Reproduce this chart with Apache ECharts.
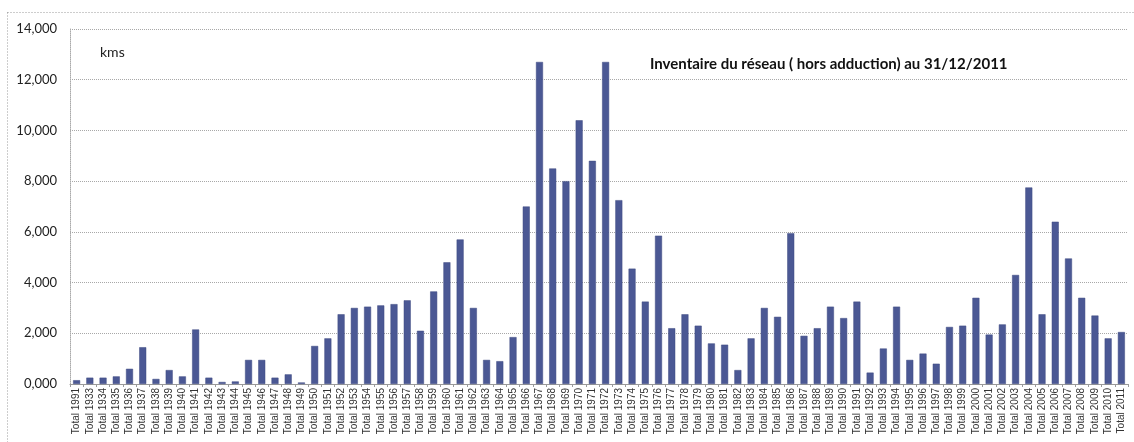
<!DOCTYPE html>
<html>
<head>
<meta charset="utf-8">
<script src="https://cdn.jsdelivr.net/npm/echarts@6/dist/echarts.min.js"></script>
<style>
html,body{margin:0;padding:0;background:#fff;}
#chart{width:1134px;height:442px;}
</style>
</head>
<body>
<div id="chart"></div>
<script>
const categories = ["Total 1991","Total 1933","Total 1934","Total 1935","Total 1936","Total 1937","Total 1938","Total 1939","Total 1940","Total 1941",
"Total 1942","Total 1943","Total 1944","Total 1945","Total 1946","Total 1947","Total 1948","Total 1949","Total 1950","Total 1951",
"Total 1952","Total 1953","Total 1954","Total 1955","Total 1956","Total 1957","Total 1958","Total 1959","Total 1960","Total 1961",
"Total 1962","Total 1963","Total 1964","Total 1965","Total 1966","Total 1967","Total 1968","Total 1969","Total 1970","Total 1971",
"Total 1972","Total 1973","Total 1974","Total 1975","Total 1976","Total 1977","Total 1978","Total 1979","Total 1980","Total 1981",
"Total 1982","Total 1983","Total 1984","Total 1985","Total 1986","Total 1987","Total 1988","Total 1989","Total 1990","Total 1991",
"Total 1992","Total 1993","Total 1994","Total 1995","Total 1996","Total 1997","Total 1998","Total 1999","Total 2000","Total 2001",
"Total 2002","Total 2003","Total 2004","Total 2005","Total 2006","Total 2007","Total 2008","Total 2009","Total 2010","Total 2011"];

const kms = [150,250,250,300,600,1450,200,550,300,2150,
250,80,100,950,950,250,380,60,1500,1800,
2750,3000,3050,3100,3150,3300,2100,3650,4800,5700,
3000,950,900,1850,7000,12700,8500,8000,10400,8800,
12700,7250,4550,3250,5850,2200,2750,2300,1600,1550,
550,1800,3000,2650,5950,1900,2200,3050,2600,3250,
450,1400,3050,950,1200,800,2250,2300,3400,1950,
2350,4300,7750,2750,6400,4950,3400,2700,1800,2050];

const yTickValues = [0,2000,4000,6000,8000,10000,12000,14000];
const yTickLabels = ["0,000","2,000","4,000","6,000","8,000","10,000","12,000","14,000"];

const unitLabel = "kms";
const chartNote = "Inventaire du réseau ( hors adduction) au 31/12/2011";

const chart = echarts.init(document.getElementById('chart'), null, {renderer:'canvas'});
chart.setOption({
  animation:false,
  backgroundColor:'#fff',
  grid:{left:70, right:6, top:29, bottom:58, containLabel:false},
  xAxis:{
    type:'category',
    data:categories,
    boundaryGap:true,
    axisLine:{show:true, lineStyle:{color:'#9a9a9a', width:1}},
    axisTick:{show:true, alignWithLabel:false, length:3, interval:0, lineStyle:{color:'#9a9a9a'}},
    axisLabel:{interval:0, rotate:90, fontSize:10, fontFamily:'Liberation Sans, Arial', color:'#333', margin:4},
    splitLine:{show:false}
  },
  yAxis:{
    type:'value',
    min:0, max:14000, interval:2000,
    axisLine:{show:true, lineStyle:{color:'#aaa', type:'dotted'}},
    axisTick:{show:false},
    axisLabel:{
      fontSize:13, fontFamily:'Lato, Open Sans, sans-serif', color:'#222', margin:13,
      formatter:function(v){const i=yTickValues.indexOf(v); return i>=0?yTickLabels[i]:'';}
    },
    splitLine:{show:true, lineStyle:{color:'#a8a8a8', type:'dotted', width:1}}
  },
  series:[{
    type:'bar',
    data:kms,
    barWidth:7,
    itemStyle:{color:'#4b5894', borderColor:'#3e4a80', borderWidth:0.5}
  }],
  graphic:[
    {type:'rect', shape:{x:7.5, y:12.5, width:1140, height:440}, style:{fill:null, stroke:'#9a9a9a', lineWidth:1, lineDash:[1,2]}, silent:true},
    {type:'text', left:100, top:45, style:{text:unitLabel, font:'14px Lato, "Open Sans", sans-serif', fill:'#222'}},
    {type:'text', left:650, top:57, style:{text:chartNote, font:'bold 15px Lato, "Open Sans", sans-serif', fill:'#111'}}
  ]
});
</script>
</body>
</html>
